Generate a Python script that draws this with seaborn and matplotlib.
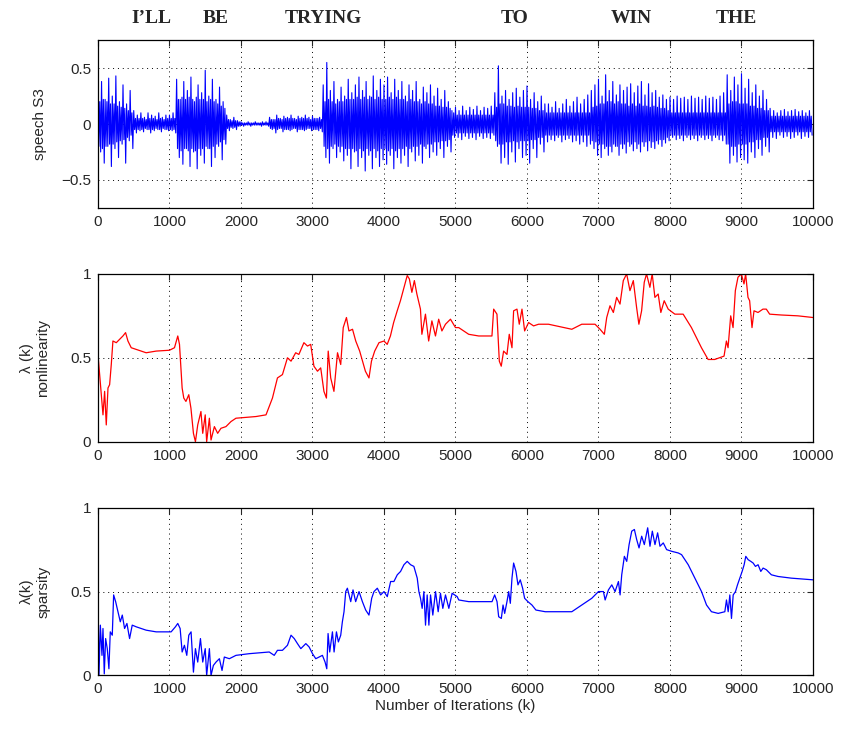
import numpy as np
import pandas as pd
import matplotlib
matplotlib.use("Agg")
import matplotlib.pyplot as plt
import seaborn as sns

# speech S3: positive peaks / negative troughs / dense-core amplitude, one per 50-iteration block
speech_hi = [
    0.30, 0.38, 0.22, 0.41, 0.25, 0.43, 0.20, 0.35, 0.18, 0.30, 0.12, 0.08, 0.10, 0.06, 0.10, 0.08, 0.07, 0.10, 0.06, 0.08,
    0.08, 0.10, 0.40, 0.22, 0.38, 0.30, 0.42, 0.20, 0.35, 0.28, 0.48, 0.25, 0.40, 0.22, 0.33, 0.20, 0.08, 0.04, 0.06, 0.03,
    0.02, 0.01, 0.02, 0.01, 0.02, 0.01, 0.02, 0.02, 0.06, 0.04, 0.08, 0.05, 0.07, 0.06, 0.08, 0.05, 0.07, 0.06, 0.08, 0.06,
    0.07, 0.05, 0.06, 0.35, 0.55, 0.30, 0.38, 0.22, 0.33, 0.25, 0.40, 0.28, 0.35, 0.42, 0.30, 0.38, 0.25, 0.43, 0.30, 0.40,
    0.35, 0.42, 0.28, 0.40, 0.30, 0.38, 0.25, 0.35, 0.30, 0.38, 0.22, 0.33, 0.28, 0.35, 0.25, 0.32, 0.22, 0.30, 0.20, 0.12,
    0.15, 0.12, 0.16, 0.12, 0.15, 0.13, 0.16, 0.12, 0.15, 0.14, 0.16, 0.28, 0.52, 0.25, 0.30, 0.22, 0.28, 0.32, 0.24, 0.30,
    0.34, 0.22, 0.28, 0.20, 0.25, 0.18, 0.18, 0.15, 0.20, 0.14, 0.18, 0.22, 0.16, 0.20, 0.24, 0.18, 0.22, 0.26, 0.30, 0.35,
    0.40, 0.25, 0.44, 0.30, 0.38, 0.26, 0.35, 0.30, 0.33, 0.36, 0.28, 0.34, 0.38, 0.26, 0.36, 0.28, 0.30, 0.24, 0.26, 0.22,
    0.24, 0.22, 0.25, 0.23, 0.24, 0.22, 0.25, 0.23, 0.24, 0.22, 0.25, 0.23, 0.24, 0.22, 0.25, 0.28, 0.44, 0.30, 0.42, 0.35,
    0.45, 0.32, 0.40, 0.28, 0.35, 0.25, 0.30, 0.22, 0.14, 0.12, 0.10, 0.12, 0.13, 0.11, 0.12, 0.13, 0.11, 0.12, 0.10, 0.12,
]
speech_lo = [
    -0.25, -0.35, -0.20, -0.38, -0.22, -0.30, -0.18, -0.35, -0.15, -0.22, -0.08, -0.06, -0.07, -0.05, -0.08, -0.06, -0.05, -0.07, -0.05, -0.06,
    -0.06, -0.08, -0.30, -0.36, -0.22, -0.38, -0.25, -0.40, -0.28, -0.35, -0.22, -0.38, -0.30, -0.20, -0.32, -0.18, -0.06, -0.04, -0.05, -0.02,
    -0.02, -0.01, -0.02, -0.01, -0.01, -0.02, -0.01, -0.02, -0.05, -0.08, -0.04, -0.07, -0.05, -0.06, -0.04, -0.07, -0.05, -0.06, -0.04, -0.06,
    -0.05, -0.06, -0.07, -0.30, -0.35, -0.22, -0.30, -0.25, -0.33, -0.28, -0.40, -0.25, -0.38, -0.30, -0.42, -0.28, -0.40, -0.30, -0.38, -0.32,
    -0.36, -0.28, -0.40, -0.30, -0.35, -0.28, -0.38, -0.25, -0.33, -0.28, -0.35, -0.22, -0.30, -0.25, -0.28, -0.22, -0.30, -0.20, -0.25, -0.12,
    -0.12, -0.14, -0.11, -0.13, -0.12, -0.14, -0.11, -0.13, -0.12, -0.13, -0.10, -0.20, -0.35, -0.30, -0.36, -0.25, -0.34, -0.22, -0.30, -0.28,
    -0.35, -0.22, -0.30, -0.18, -0.25, -0.16, -0.14, -0.15, -0.12, -0.16, -0.14, -0.13, -0.16, -0.15, -0.18, -0.16, -0.20, -0.18, -0.22, -0.28,
    -0.30, -0.22, -0.28, -0.25, -0.20, -0.28, -0.22, -0.26, -0.20, -0.24, -0.22, -0.25, -0.20, -0.24, -0.21, -0.22, -0.18, -0.20, -0.17, -0.15,
    -0.12, -0.14, -0.13, -0.15, -0.12, -0.14, -0.13, -0.15, -0.12, -0.14, -0.13, -0.15, -0.12, -0.14, -0.15, -0.18, -0.35, -0.28, -0.34, -0.30,
    -0.32, -0.35, -0.25, -0.30, -0.22, -0.28, -0.20, -0.25, -0.12, -0.13, -0.10, -0.12, -0.11, -0.13, -0.12, -0.10, -0.13, -0.11, -0.12, -0.10,
]
speech_core = [
    0.20, 0.22, 0.20, 0.18, 0.18, 0.16, 0.15, 0.14, 0.12, 0.10, 0.05, 0.05, 0.05, 0.04, 0.05, 0.05, 0.04, 0.05, 0.04, 0.05,
    0.05, 0.05, 0.22, 0.24, 0.22, 0.24, 0.22, 0.24, 0.22, 0.22, 0.20, 0.22, 0.20, 0.18, 0.16, 0.14, 0.04, 0.03, 0.03, 0.02,
    0.01, 0.01, 0.01, 0.01, 0.01, 0.01, 0.01, 0.01, 0.04, 0.04, 0.05, 0.04, 0.05, 0.05, 0.05, 0.04, 0.05, 0.05, 0.05, 0.04,
    0.05, 0.05, 0.04, 0.20, 0.22, 0.20, 0.18, 0.20, 0.20, 0.22, 0.22, 0.22, 0.24, 0.22, 0.24, 0.22, 0.24, 0.22, 0.24, 0.22,
    0.22, 0.24, 0.22, 0.24, 0.22, 0.22, 0.20, 0.22, 0.20, 0.20, 0.18, 0.20, 0.18, 0.18, 0.16, 0.16, 0.15, 0.15, 0.14, 0.10,
    0.08, 0.08, 0.08, 0.08, 0.08, 0.08, 0.08, 0.08, 0.08, 0.08, 0.08, 0.15, 0.18, 0.18, 0.16, 0.16, 0.15, 0.16, 0.15, 0.15,
    0.15, 0.14, 0.14, 0.12, 0.12, 0.10, 0.10, 0.10, 0.10, 0.10, 0.10, 0.10, 0.10, 0.10, 0.10, 0.10, 0.10, 0.10, 0.15, 0.16,
    0.18, 0.18, 0.20, 0.20, 0.18, 0.20, 0.18, 0.18, 0.16, 0.18, 0.16, 0.18, 0.16, 0.16, 0.15, 0.16, 0.15, 0.14, 0.14, 0.12,
    0.10, 0.10, 0.10, 0.10, 0.10, 0.10, 0.10, 0.10, 0.10, 0.10, 0.10, 0.10, 0.10, 0.10, 0.10, 0.10, 0.18, 0.20, 0.20, 0.18,
    0.18, 0.18, 0.16, 0.16, 0.14, 0.14, 0.12, 0.12, 0.07, 0.07, 0.07, 0.07, 0.07, 0.07, 0.07, 0.07, 0.07, 0.07, 0.07, 0.07,
]

# lambda(k) nonlinearity (red)
nl_k = [0, 46, 70, 93, 116, 140, 163, 186, 209, 256, 302, 349, 386, 419, 465, 535, 674, 814, 1000, 1070,
        1116, 1140, 1177, 1200, 1230, 1270, 1300, 1335, 1363, 1395, 1440, 1465, 1500, 1520, 1558, 1581, 1628, 1674, 1720, 1790,
        1860, 1930, 2210, 2350, 2440, 2510, 2580, 2650, 2700, 2765, 2810, 2880, 2930, 2975, 3020, 3070, 3115, 3160, 3195, 3220,
        3255, 3300, 3350, 3395, 3430, 3475, 3510, 3560, 3605, 3660, 3700, 3740, 3790, 3825, 3870, 3930, 4000, 4045, 4090, 4135,
        4185, 4230, 4280, 4325, 4355, 4390, 4425, 4460, 4510, 4530, 4580, 4625, 4670, 4720, 4765, 4810, 4860, 4930, 5000, 5045,
        5185, 5325, 5510, 5534, 5580, 5613, 5640, 5673, 5720, 5752, 5790, 5813, 5860, 5892, 5930, 5967, 6022, 6092, 6162, 6301,
        6627, 6766, 6952, 7022, 7082, 7115, 7161, 7208, 7254, 7301, 7347, 7394, 7440, 7487, 7533, 7565, 7603, 7640, 7672, 7719,
        7751, 7789, 7835, 7872, 7919, 7975, 8068, 8184, 8300, 8440, 8533, 8626, 8756, 8789, 8812, 8849, 8882, 8914, 8951, 8998,
        9035, 9058, 9091, 9114, 9147, 9175, 9231, 9300, 9347, 9394, 9556, 9789, 10000]
nl_val = [0.52, 0.28, 0.16, 0.30, 0.10, 0.32, 0.34, 0.46, 0.60, 0.59, 0.61, 0.63, 0.65, 0.60, 0.56, 0.55, 0.53, 0.54, 0.545, 0.56,
          0.63, 0.58, 0.32, 0.26, 0.24, 0.28, 0.20, 0.05, 0.00, 0.10, 0.18, 0.05, 0.16, 0.00, 0.14, 0.01, 0.09, 0.05, 0.08, 0.09,
          0.12, 0.14, 0.15, 0.16, 0.26, 0.38, 0.40, 0.50, 0.48, 0.53, 0.52, 0.59, 0.57, 0.58, 0.45, 0.42, 0.44, 0.30, 0.26, 0.54,
          0.38, 0.30, 0.53, 0.46, 0.68, 0.74, 0.66, 0.67, 0.60, 0.54, 0.48, 0.42, 0.38, 0.48, 0.54, 0.59, 0.60, 0.58, 0.63, 0.71,
          0.78, 0.84, 0.92, 0.99, 0.97, 0.89, 0.96, 0.88, 0.79, 0.64, 0.76, 0.60, 0.72, 0.63, 0.73, 0.66, 0.70, 0.73, 0.68, 0.68,
          0.64, 0.63, 0.63, 0.79, 0.76, 0.48, 0.45, 0.54, 0.52, 0.64, 0.56, 0.78, 0.79, 0.70, 0.79, 0.66, 0.71, 0.69, 0.70, 0.70,
          0.67, 0.70, 0.70, 0.67, 0.64, 0.74, 0.81, 0.77, 0.86, 0.82, 0.96, 1.00, 0.90, 0.96, 0.80, 0.70, 0.78, 0.95, 1.00, 0.92,
          1.00, 0.86, 0.88, 0.77, 0.84, 0.79, 0.76, 0.76, 0.68, 0.56, 0.49, 0.49, 0.51, 0.60, 0.56, 0.75, 0.68, 0.90, 0.98, 1.00,
          0.94, 1.00, 0.86, 0.84, 0.68, 0.78, 0.77, 0.79, 0.79, 0.76, 0.755, 0.75, 0.74]

# lambda(k) sparsity (blue)
sp_k = [0, 14, 33, 56, 70, 88, 107, 130, 153, 172, 200, 219, 247, 279, 312, 340, 372, 405, 442, 479,
        535, 674, 814, 1023, 1083, 1116, 1149, 1177, 1209, 1242, 1270, 1302, 1335, 1363, 1395, 1433, 1465, 1500, 1520, 1558,
        1581, 1614, 1651, 1698, 1735, 1767, 1837, 1930, 2116, 2395, 2465, 2510, 2580, 2650, 2700, 2745, 2790, 2837, 2907, 2953,
        3000, 3046, 3093, 3139, 3176, 3200, 3218, 3241, 3279, 3302, 3335, 3362, 3395, 3418, 3441, 3465, 3488, 3535, 3567, 3604,
        3651, 3698, 3744, 3790, 3828, 3860, 3907, 3953, 4000, 4046, 4093, 4139, 4186, 4232, 4279, 4325, 4372, 4418, 4465, 4488,
        4511, 4534, 4558, 4581, 4604, 4628, 4651, 4683, 4721, 4758, 4790, 4823, 4860, 4907, 4953, 5023, 5046, 5185, 5511, 5548,
        5581, 5604, 5641, 5665, 5688, 5720, 5744, 5767, 5790, 5813, 5846, 5874, 5906, 5939, 5967, 6013, 6069, 6125, 6255, 6441,
        6627, 6767, 6906, 7000, 7069, 7093, 7139, 7186, 7232, 7279, 7302, 7325, 7362, 7395, 7428, 7465, 7502, 7534, 7567, 7604,
        7641, 7688, 7720, 7753, 7790, 7827, 7860, 7906, 7953, 8023, 8116, 8162, 8255, 8348, 8441, 8511, 8580, 8674, 8767, 8790,
        8814, 8837, 8860, 8884, 8916, 8944, 8977, 9009, 9037, 9060, 9093, 9130, 9163, 9195, 9232, 9270, 9302, 9348, 9418, 9511,
        9697, 10000]
sp_val = [0.50, 0.00, 0.30, 0.12, 0.28, 0.01, 0.22, 0.16, 0.04, 0.26, 0.24, 0.48, 0.44, 0.38, 0.32, 0.36, 0.28, 0.31, 0.22, 0.30,
          0.29, 0.27, 0.26, 0.26, 0.29, 0.31, 0.28, 0.14, 0.18, 0.12, 0.24, 0.26, 0.02, 0.16, 0.08, 0.22, 0.08, 0.16, 0.00, 0.16,
          0.00, 0.06, 0.08, 0.10, 0.03, 0.11, 0.10, 0.12, 0.13, 0.14, 0.12, 0.15, 0.15, 0.18, 0.24, 0.22, 0.19, 0.16, 0.19, 0.17,
          0.13, 0.10, 0.11, 0.12, 0.08, 0.04, 0.25, 0.14, 0.26, 0.14, 0.26, 0.20, 0.24, 0.32, 0.38, 0.50, 0.52, 0.44, 0.51, 0.44,
          0.50, 0.44, 0.39, 0.36, 0.46, 0.50, 0.52, 0.48, 0.50, 0.47, 0.56, 0.56, 0.60, 0.62, 0.66, 0.68, 0.66, 0.65, 0.58, 0.50,
          0.46, 0.40, 0.50, 0.30, 0.48, 0.30, 0.48, 0.36, 0.50, 0.38, 0.49, 0.40, 0.48, 0.40, 0.49, 0.47, 0.45, 0.44, 0.44, 0.48,
          0.44, 0.35, 0.34, 0.42, 0.37, 0.44, 0.50, 0.43, 0.58, 0.67, 0.62, 0.54, 0.57, 0.52, 0.46, 0.44, 0.42, 0.39, 0.38, 0.38,
          0.38, 0.42, 0.46, 0.50, 0.50, 0.45, 0.51, 0.54, 0.50, 0.56, 0.48, 0.60, 0.71, 0.68, 0.78, 0.86, 0.87, 0.81, 0.76, 0.83,
          0.78, 0.88, 0.77, 0.86, 0.78, 0.85, 0.77, 0.79, 0.75, 0.74, 0.73, 0.72, 0.66, 0.58, 0.50, 0.42, 0.38, 0.37, 0.38, 0.45,
          0.38, 0.48, 0.34, 0.48, 0.50, 0.54, 0.58, 0.62, 0.66, 0.71, 0.69, 0.68, 0.67, 0.65, 0.66, 0.62, 0.64, 0.63, 0.60, 0.59,
          0.58, 0.57]

words = ["I\u2019LL", "BE", "TRYING", "TO", "WIN", "THE"]
word_k = [741, 1650, 3147, 5832, 7455, 8923]

# each 50-iteration block -> peak, -core, core, trough (one sample every 12.5 iterations)
speech = np.empty(4 * len(speech_hi))
speech[0::4] = speech_hi
speech[1::4] = -np.array(speech_core)
speech[2::4] = speech_core
speech[3::4] = speech_lo
speech_df = pd.DataFrame({"k": np.arange(len(speech)) * 12.5, "s": speech})
nl_df = pd.DataFrame({"k": nl_k, "lam": nl_val})
sp_df = pd.DataFrame({"k": sp_k, "lam": sp_val})

sns.set_style("white")
plt.rcParams["font.family"] = ["Liberation Sans", "DejaVu Sans"]
plt.rcParams["xtick.direction"] = "in"
plt.rcParams["ytick.direction"] = "in"

fig, axs = plt.subplots(3, 1, figsize=(8.41, 7.29), dpi=100)
fig.subplots_adjust(left=0.1165, right=0.9667, top=0.945, bottom=0.0734, hspace=0.393)

sns.lineplot(data=speech_df, x="k", y="s", ax=axs[0], color="#0000ff", linewidth=0.8,
             estimator=None, sort=False)
sns.lineplot(data=nl_df, x="k", y="lam", ax=axs[1], color="#ff0000", linewidth=0.9,
             estimator=None, sort=False)
sns.lineplot(data=sp_df, x="k", y="lam", ax=axs[2], color="#0000ff", linewidth=0.9,
             estimator=None, sort=False)

axs[0].set_ylim(-0.75, 0.75)
axs[0].set_yticks([-0.5, 0, 0.5])
axs[0].set_yticklabels(["\u22120.5", "0", "0.5"])
axs[1].set_ylim(0, 1)
axs[2].set_ylim(0, 1)
for ax in axs[1:]:
    ax.set_yticks([0, 0.5, 1])
    ax.set_yticklabels(["0", "0.5", "1"])

for ax in axs:
    ax.set_xlim(0, 10000)
    ax.set_xticks(range(0, 10001, 1000))
    ax.grid(True, linestyle=(0, (1, 4)), color="k", linewidth=0.7)
    ax.tick_params(axis="both", labelsize=11, top=True, right=True, length=4, width=0.8, pad=5)
    for sp in ax.spines.values():
        sp.set_visible(True)
        sp.set_color("k")
        sp.set_linewidth(0.9)
    ax.set_xlabel("")

axs[0].set_ylabel("speech S3", fontsize=11, labelpad=10)
axs[1].set_ylabel("\u03bb (k)\nnonlinearity", fontsize=11, labelpad=14)
axs[2].set_ylabel("\u03bb(k)\nsparsity", fontsize=11, labelpad=14)
axs[2].set_xlabel("Number of Iterations (k)", fontsize=11, labelpad=2)

for w, k in zip(words, word_k):
    axs[0].text(k, 1.13, w, transform=axs[0].get_xaxis_transform(), ha="center", va="center",
                fontsize=14, fontweight="bold", family=["Liberation Serif", "DejaVu Serif"])

fig.savefig("out.png", dpi=100)
